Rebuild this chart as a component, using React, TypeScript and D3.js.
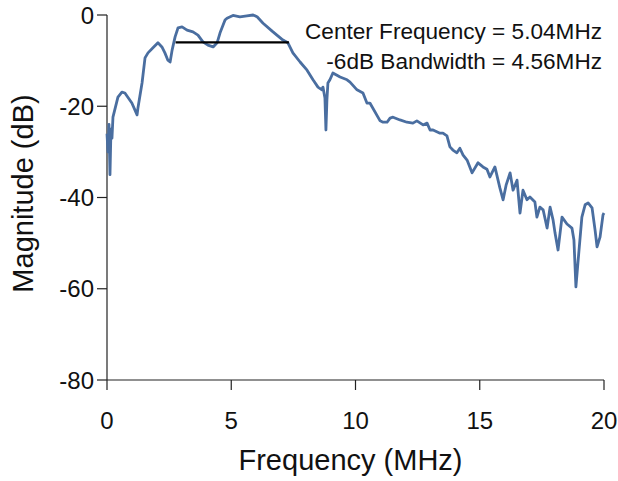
import React from "react";
import * as d3 from "d3";

const freq = [
  0.0, 0.04, 0.08, 0.12, 0.16, 0.2, 0.24, 0.44, 0.6, 0.72, 1.0, 1.21, 1.25, 1.41, 1.53, 1.65, 1.85, 2.05,
  2.21, 2.33, 2.45, 2.54, 2.62, 2.74, 2.86, 3.02, 3.22, 3.46, 3.66, 3.86, 4.06, 4.27, 4.43, 4.55, 4.75,
  4.83, 5.07, 5.35, 5.63, 5.88, 6.04, 6.28, 6.68, 7.08, 7.28, 7.48, 7.77, 8.05, 8.29, 8.49, 8.65, 8.69,
  8.77, 8.81, 8.85, 8.89, 8.97, 9.09, 9.38, 9.66, 9.78, 10.06, 10.3, 10.46, 10.58, 10.99, 11.11, 11.27,
  11.39, 11.51, 11.79, 12.07, 12.31, 12.47, 12.72, 12.88, 13.0, 13.12, 13.4, 13.52, 13.68, 13.8, 13.92,
  14.08, 14.2, 14.33, 14.49, 14.69, 14.93, 15.13, 15.29, 15.41, 15.61, 15.81, 15.94, 16.06, 16.22, 16.34,
  16.5, 16.62, 16.74, 16.9, 17.02, 17.22, 17.3, 17.42, 17.55, 17.71, 17.83, 17.95, 18.03, 18.15, 18.31,
  18.51, 18.71, 18.79, 18.87, 18.95, 19.11, 19.24, 19.36, 19.52, 19.64, 19.72, 19.84, 19.96, 20.0,
];
const magnitude = [
  -26, -30, -24, -35, -25, -27, -22.4, -18.0, -16.9, -17.1, -19.3, -21.9, -20.2, -14.9, -9.4, -8.3, -7.2,
  -6.1, -7.0, -8.3, -9.9, -10.3, -7.7, -4.8, -2.8, -2.6, -3.3, -3.7, -4.4, -5.9, -6.6, -7.0, -6.1, -3.9,
  -1.1, -0.7, -0.1, -0.4, -0.2, 0, -0.4, -1.8, -3.7, -5.5, -6.1, -8.3, -10.3, -12.1, -14.2, -15.8, -16.4,
  -15.8, -18.2, -25.2, -18.6, -14.9, -14.2, -12.7, -13.6, -14.2, -14.7, -16.4, -17.1, -19.3, -19.3, -23.2,
  -23.5, -23.5, -22.6, -22.4, -23.0, -23.5, -23.7, -23.2, -24.1, -23.7, -25.2, -25.2, -25.9, -25.9, -26.5,
  -28.9, -29.6, -30.2, -29.2, -30.7, -31.8, -34.6, -32.4, -33.3, -33.8, -35.5, -33.3, -37.9, -40.5, -37.3,
  -34.6, -38.4, -36.2, -43.4, -38.4, -40.5, -39.9, -41.0, -44.3, -42.1, -42.7, -46.7, -42.1, -44.9, -47.8,
  -51.5, -44.3, -45.8, -46.7, -49.3, -59.6, -54.4, -44.3, -41.6, -41.2, -42.3, -47.1, -50.8, -48.7, -43.8,
  -43.4,
];
const xTicks = [0, 5, 10, 15, 20];
const yTicks = [0, -20, -40, -60, -80];
const bandwidthStart = 2.76;
const bandwidthEnd = 7.32;
const bandwidthLevel = -6;
const annotationLines = ["Center Frequency = 5.04MHz", "-6dB Bandwidth = 4.56MHz"];
const xTitle = "Frequency (MHz)";
const yTitle = "Magnitude (dB)";

const W = 618;
const H = 481;
const left = 107;
const right = 604;
const top = 15;
const bottom = 380;
const font = "'Liberation Sans', Arial, sans-serif";

export default function App() {
  const x = d3.scaleLinear().domain([0, 20]).range([left, right]);
  const y = d3.scaleLinear().domain([-80, 0]).range([bottom, top]);
  const pts: [number, number][] = freq.map((f, i) => [f, magnitude[i]]);
  const line = d3
    .line<[number, number]>()
    .x((d) => x(d[0]))
    .y((d) => y(d[1]));
  const axisColor = "#222";
  return (
    <svg
      width={W}
      height={H}
      style={{ position: "absolute", left: 0, top: 0, background: "#fff" }}
      fontFamily={font}
    >
      <rect x={0} y={0} width={W} height={H} fill="#fff" />
      <line x1={left} y1={top} x2={left} y2={bottom} stroke={axisColor} strokeWidth={1.2} />
      <line x1={left} y1={bottom} x2={right} y2={bottom} stroke={axisColor} strokeWidth={1.2} />
      {yTicks.map((t) => (
        <g key={"y" + t}>
          <line x1={left - 10} x2={left} y1={y(t)} y2={y(t)} stroke={axisColor} strokeWidth={1.2} />
          <text x={left - 13} y={y(t) + 8.5} textAnchor="end" fontSize={24} fill="#111">
            {t}
          </text>
        </g>
      ))}
      {xTicks.map((t) => (
        <g key={"x" + t}>
          <line x1={x(t)} x2={x(t)} y1={bottom} y2={bottom + 10} stroke={axisColor} strokeWidth={1.2} />
          <text x={x(t)} y={429} textAnchor="middle" fontSize={24} fill="#111">
            {t}
          </text>
        </g>
      ))}
      <text x={(left + right) / 2 - 5} y={470} textAnchor="middle" fontSize={29} fill="#111">
        {xTitle}
      </text>
      <text
        transform={`translate(33, ${(top + bottom) / 2 - 4}) rotate(-90)`}
        textAnchor="middle"
        fontSize={29}
        fill="#111"
      >
        {yTitle}
      </text>
      <path d={line(pts) || ""} fill="none" stroke="#4a6ea0" strokeWidth={2.8} strokeLinejoin="round" />
      <line
        x1={x(bandwidthStart)}
        x2={x(bandwidthEnd)}
        y1={y(bandwidthLevel)}
        y2={y(bandwidthLevel)}
        stroke="#000"
        strokeWidth={2.2}
      />
      {annotationLines.map((s, i) => (
        <text key={s} x={602} y={39 + i * 30} textAnchor="end" fontSize={22.6} fill="#111">
          {s}
        </text>
      ))}
    </svg>
  );
}
